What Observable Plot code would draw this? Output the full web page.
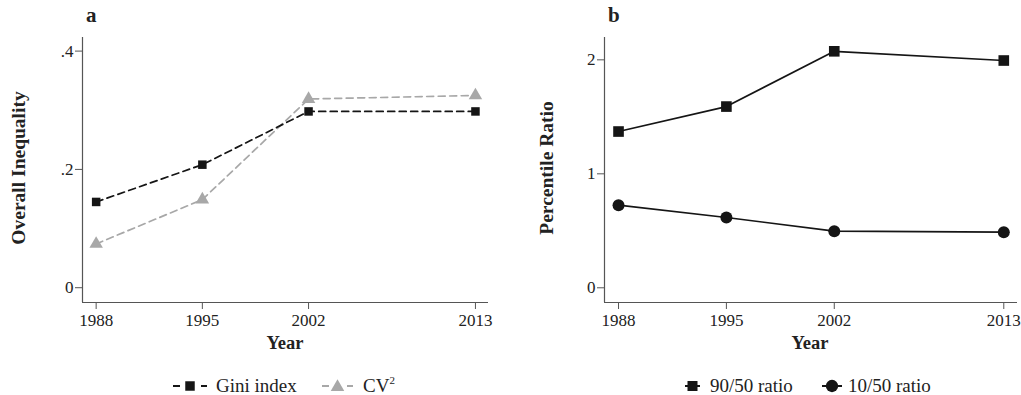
<!DOCTYPE html>
<html>
<head>
<meta charset="utf-8">
<script src="https://cdn.jsdelivr.net/npm/d3@7"></script>
<script src="https://cdn.jsdelivr.net/npm/@observablehq/plot@0.6"></script>
<style>
  html, body { margin: 0; padding: 0; background: #fff; }
  #root { position: relative; width: 1021px; height: 395px; overflow: hidden; font-family: "Liberation Serif", "Times New Roman", serif; color: #222; }
  .panel { position: absolute; top: 0; }
  .tag { position: absolute; font-weight: bold; font-size: 21px; top: 3px; line-height: 24px; }
  .title { position: absolute; font-weight: bold; white-space: nowrap; line-height: 20px; }
  .ytitle { font-size: 19.5px; transform: translate(-50%, -50%) rotate(-90deg); }
  .xtitle { font-size: 18.5px; transform: translate(-50%, -50%); }
  .lg { position: absolute; font-size: 19px; line-height: 19px; top: 376px; white-space: nowrap; }
  .sw { position: absolute; top: 378px; }
</style>
</head>
<body>
<div id="root">
  <div class="panel" id="pa" style="left:0px"></div>
  <div class="panel" id="pb" style="left:520px"></div>
  <div class="tag" style="left:86px">a</div>
  <div class="tag" style="left:608px">b</div>
  <div class="title ytitle" id="ya" style="left:19px; top:168px"></div>
  <div class="title ytitle" id="yb" style="left:547px; top:168px"></div>
  <div class="title xtitle" id="xa" style="left:285px; top:343px"></div>
  <div class="title xtitle" id="xb" style="left:810px; top:343px"></div>
</div>
<script>
const years = [1988, 1995, 2002, 2013];
const gini = [0.145, 0.208, 0.298, 0.298];
const cv2 = [0.074, 0.149, 0.319, 0.325];
const ratio9050 = [1.371, 1.59, 2.075, 1.994];
const ratio1050 = [0.725, 0.617, 0.497, 0.488];
const ticksA = [0, 0.2, 0.4];
const ticksB = [0, 1, 2];
const seriesA = ["Gini index", "CV²"];
const seriesB = ["90/50 ratio", "10/50 ratio"];
const yTitleA = "Overall Inequality";
const yTitleB = "Percentile Ratio";
const xTitle = "Year";

const rowsA = years.flatMap((y, i) => [
  {year: y, value: gini[i], s: seriesA[0]},
  {year: y, value: cv2[i], s: seriesA[1]}
]);
const rowsB = years.flatMap((y, i) => [
  {year: y, value: ratio9050[i], s: seriesB[0]},
  {year: y, value: ratio1050[i], s: seriesB[1]}
]);

const axisColor = "#555";
const ink = "#151515";
const gray = "#a8a8a8";
const style = {fontFamily: "'Liberation Serif', 'Times New Roman', serif", fontSize: "17px", color: "#222", background: "transparent"};
const fmtA = d => d === 0 ? "0" : d3.format(".1f")(d).replace(/^0/, "");
const tickFont = 17;

const xdA = [1987.1, 2013.86];
const ydA = [-0.025, 0.423];
const plotA = Plot.plot({
  width: 510, height: 330,
  marginLeft: 82, marginTop: 37, marginRight: 22, marginBottom: 28,
  style,
  x: {domain: xdA},
  y: {domain: ydA},
  marks: [
    Plot.ruleX([xdA[0]], {stroke: axisColor, strokeWidth: 1.2}),
    Plot.ruleY([ydA[0]], {stroke: axisColor, strokeWidth: 1.2}),
    Plot.axisX({ticks: years, tickFormat: d => String(d), tickSize: 7, tickPadding: 4, stroke: axisColor, fontSize: tickFont, label: null}),
    Plot.axisY({ticks: ticksA, tickFormat: fmtA, tickSize: 7, tickPadding: 2, stroke: axisColor, fontSize: tickFont, label: null}),
    Plot.line(rowsA.filter(d => d.s === seriesA[1]), {x: "year", y: "value", stroke: gray, strokeWidth: 1.7, strokeDasharray: "7,4.5"}),
    Plot.dot(rowsA.filter(d => d.s === seriesA[1]), {x: "year", y: "value", symbol: "triangle", r: 5, fill: gray}),
    Plot.line(rowsA.filter(d => d.s === seriesA[0]), {x: "year", y: "value", stroke: ink, strokeWidth: 1.7, strokeDasharray: "7,4.5"}),
    Plot.dot(rowsA.filter(d => d.s === seriesA[0]), {x: "year", y: "value", symbol: "square", r: 4.8, fill: ink})
  ]
});
document.getElementById("pa").append(plotA);

const xdB = [1987.09, 2013.89];
const ydB = [-0.129, 2.196];
const plotB = Plot.plot({
  width: 501, height: 330,
  marginLeft: 84, marginTop: 37, marginRight: 4, marginBottom: 28,
  style,
  x: {domain: xdB},
  y: {domain: ydB},
  marks: [
    Plot.ruleX([xdB[0]], {stroke: axisColor, strokeWidth: 1.2}),
    Plot.ruleY([ydB[0]], {stroke: axisColor, strokeWidth: 1.2}),
    Plot.axisX({ticks: years, tickFormat: d => String(d), tickSize: 7, tickPadding: 4, stroke: axisColor, fontSize: tickFont, label: null}),
    Plot.axisY({ticks: ticksB, tickFormat: d => String(d), tickSize: 7, tickPadding: 2, stroke: axisColor, fontSize: tickFont, label: null}),
    Plot.line(rowsB.filter(d => d.s === seriesB[0]), {x: "year", y: "value", stroke: ink, strokeWidth: 1.7}),
    Plot.dot(rowsB.filter(d => d.s === seriesB[0]), {x: "year", y: "value", symbol: "square", r: 6, fill: ink}),
    Plot.line(rowsB.filter(d => d.s === seriesB[1]), {x: "year", y: "value", stroke: ink, strokeWidth: 1.7}),
    Plot.dot(rowsB.filter(d => d.s === seriesB[1]), {x: "year", y: "value", symbol: "circle", r: 6, fill: ink})
  ]
});
document.getElementById("pb").append(plotB);

document.getElementById("ya").textContent = yTitleA;
document.getElementById("yb").textContent = yTitleB;
document.getElementById("xa").textContent = xTitle;
document.getElementById("xb").textContent = xTitle;

// Legends
const root = document.getElementById("root");
const ns = "http://www.w3.org/2000/svg";
function swatch(left, width, color, sym, dashed, size) {
  const h = 16, cx = width / 2, cy = 8;
  const svg = document.createElementNS(ns, "svg");
  svg.setAttribute("class", "sw");
  svg.style.left = left + "px";
  svg.setAttribute("width", width); svg.setAttribute("height", h);
  const segs = dashed ? [[0, 7], [width - 6, width]] : [[0, width]];
  for (const [x1, x2] of segs) {
    const l = document.createElementNS(ns, "line");
    l.setAttribute("x1", x1); l.setAttribute("x2", x2); l.setAttribute("y1", cy); l.setAttribute("y2", cy);
    l.setAttribute("stroke", color); l.setAttribute("stroke-width", 2);
    svg.append(l);
  }
  const p = document.createElementNS(ns, "path");
  const symMap = {square: d3.symbolSquare, triangle: d3.symbolTriangle, circle: d3.symbolCircle};
  p.setAttribute("d", d3.symbol(symMap[sym], size)());
  p.setAttribute("transform", `translate(${cx},${cy + (sym === "triangle" ? 1 : 0)})`);
  p.setAttribute("fill", color);
  svg.append(p);
  root.append(svg);
}
function label(left, html) {
  const d = document.createElement("div");
  d.className = "lg";
  d.style.left = left + "px";
  d.innerHTML = html;
  root.append(d);
}
swatch(173, 34, ink, "square", true, 90);
label(216, seriesA[0]);
swatch(322, 31, gray, "triangle", true, 80);
label(363, "CV<sup style='font-size:11px;vertical-align:8px;line-height:0'>2</sup>");
swatch(685, 15, ink, "square", false, 100);
label(710, seriesB[0]);
swatch(822, 20, ink, "circle", false, 120);
label(848, seriesB[1]);
</script>
</body>
</html>
